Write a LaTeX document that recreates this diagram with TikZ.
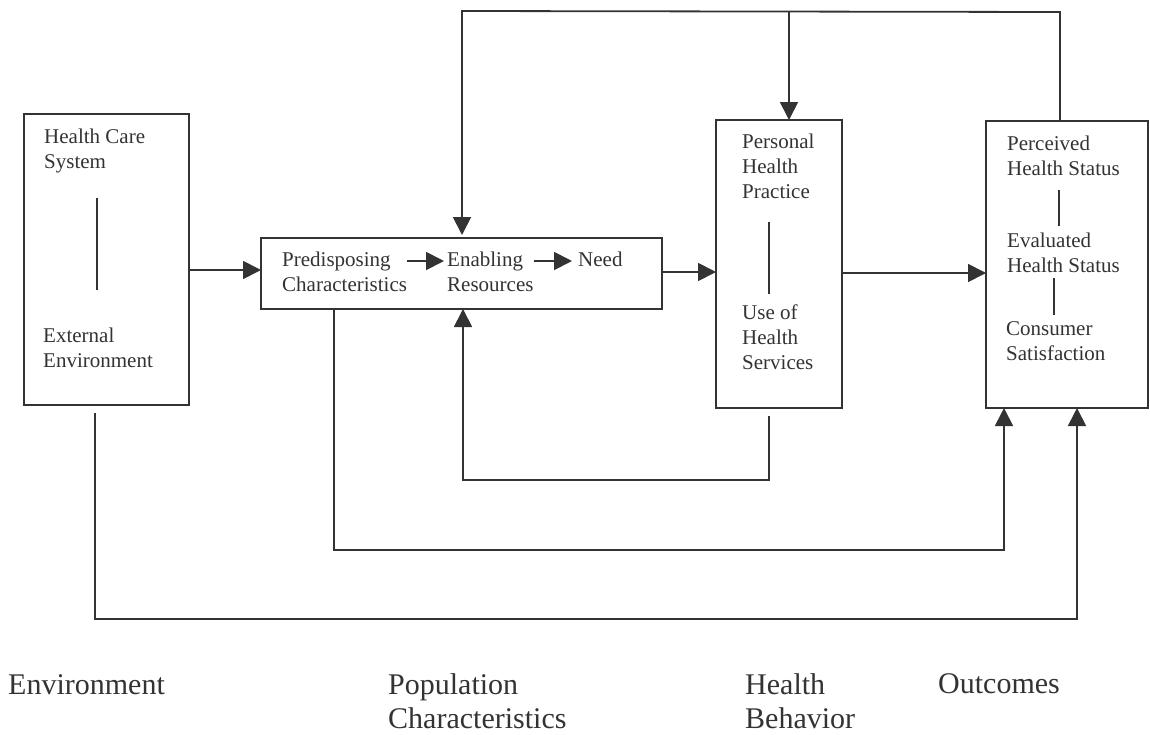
\documentclass[tikz,border=0pt]{standalone}
\usepackage{fontspec}
\setmainfont{Liberation Serif}
\usetikzlibrary{arrows.meta}
\definecolor{ink}{gray}{0.2}
\tikzset{
  block/.style={rectangle, draw=ink, line width=2.4pt, inner sep=0pt, outer sep=0pt},
  % multi-line texts are placed by the baseline of their last line
  boxtext/.style={anchor=base west, inner sep=0pt, align=left, text=ink,
    font=\fontsize{21}{25}\selectfont},
  caption/.style={anchor=base west, inner sep=0pt, align=left, text=ink,
    font=\fontsize{30}{34}\selectfont},
  link/.style={draw=ink, line width=1.8pt},
  arrowlink/.style={link, -{Triangle[length=18pt,width=18pt]}},
  divider/.style={draw=ink, line width=2pt},
}
\begin{document}
\begin{tikzpicture}[x=1pt, y=-1pt]
  \fill[white] (0,0) rectangle (1150,734);
  \useasboundingbox (0,0) rectangle (1150,734);

  % the four blocks
  \node[block, minimum width=165pt, minimum height=291pt] (env) at (106.5,259.5) {};
  \node[block, minimum width=401pt, minimum height=71pt]  (pop) at (461.5,273.5) {};
  \node[block, minimum width=126pt, minimum height=288pt] (beh) at (779,264) {};
  \node[block, minimum width=162pt, minimum height=287pt] (out) at (1067,264.5) {};

  % texts inside the blocks
  \node[boxtext] (hcs)  at (44,168)   {Health Care\\System};
  \node[boxtext] (ext)  at (43,367)   {External\\Environment};
  \node[boxtext] (pre)  at (282,291)  {Predisposing\\Characteristics};
  \node[boxtext] (ena)  at (447,291)  {Enabling\\Resources};
  \node[boxtext] (need) at (578,266)  {Need};
  \node[boxtext] (php)  at (742,198)  {Personal\\Health\\Practice};
  \node[boxtext] (uhs)  at (742,369)  {Use of\\Health\\Services};
  \node[boxtext] (phs)  at (1007,175) {Perceived\\Health Status};
  \node[boxtext] (ehs)  at (1007,272) {Evaluated\\Health Status};
  \node[boxtext] (csat) at (1006,360) {Consumer\\Satisfaction};

  % separators inside the blocks
  \draw[divider] (97,198) -- (97,290);
  \draw[divider] (769,222) -- (769,294);
  \draw[divider] (1059,190) -- (1059,226);
  \draw[divider] (1054,278) -- (1054,315);

  % column captions
  \node[caption] (cenv) at (8,694)   {Environment};
  \node[caption] (cpop) at (388,728) {Population\\Characteristics};
  \node[caption] (cbeh) at (745,728) {Health\\Behavior};
  \node[caption] (cout) at (938,693) {Outcomes};

  % arrows inside the population block
  \draw[arrowlink, shorten >=3pt] (pre.east |- 0,261) -- (ena.west |- 0,261);
  \draw[arrowlink, shorten >=6pt] (ena.east |- 0,261) -- (need.west |- 0,261);

  % main flow
  \draw[arrowlink] (env.east |- 0,270) -- (pop.west |- 0,270);
  \draw[arrowlink] (pop.east |- 0,272) -- (beh.west |- 0,272);
  \draw[arrowlink] (beh.east |- 0,273) -- (out.west |- 0,273);

  % feedback from outcomes across the top
  \coordinate (tl) at (462,11);
  \coordinate (tm) at (789,11);
  \coordinate (tr) at (1060,12);
  \draw[arrowlink, shorten >=3pt] (out.north -| tr) -- (tr) -- (tl) -- (pop.north -| tl);
  \draw[arrowlink] (tm) -- (beh.north -| tm);

  % feedback from health behavior
  \coordinate (f1) at (769,480);
  \coordinate (f2) at (463,480);
  \draw[arrowlink, shorten <=8pt] (beh.south -| f1) -- (f1) -- (f2) -- (pop.south -| f2);

  % population characteristics to outcomes
  \coordinate (p1) at (334,550);
  \coordinate (p2) at (1004,550);
  \draw[arrowlink] (pop.south -| p1) -- (p1) -- (p2) -- (out.south -| p2);

  % environment to outcomes
  \coordinate (e1) at (95,619);
  \coordinate (e2) at (1077,619);
  \draw[arrowlink, shorten <=8pt] (env.south -| e1) -- (e1) -- (e2) -- (out.south -| e2);
\end{tikzpicture}
\end{document}
